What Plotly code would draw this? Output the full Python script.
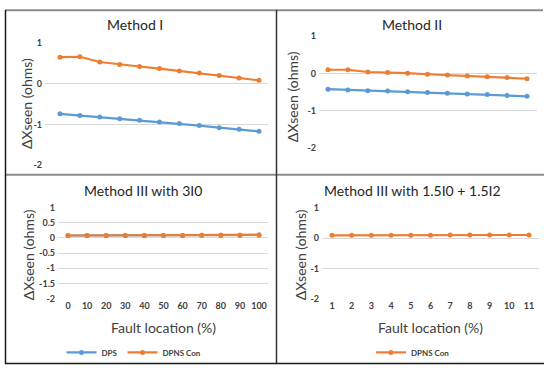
import plotly.graph_objects as go

W, H = 544, 370

# ---- data ----
loc_pct = ["0", "10", "20", "30", "40", "50", "60", "70", "80", "90", "100"]
loc_idx = ["1", "2", "3", "4", "5", "6", "7", "8", "9", "10", "11"]

m1_dps = [-0.74, -0.78, -0.82, -0.86, -0.90, -0.94, -0.98, -1.03, -1.08, -1.12, -1.17]
m1_dpns = [0.65, 0.66, 0.53, 0.47, 0.42, 0.37, 0.31, 0.26, 0.20, 0.14, 0.08]

m2_dps = [-0.42, -0.44, -0.46, -0.47, -0.49, -0.51, -0.53, -0.55, -0.56, -0.59, -0.61]
m2_dpns = [0.10, 0.10, 0.04, 0.03, 0.01, -0.02, -0.04, -0.07, -0.09, -0.11, -0.14]

m3_dps = [0.08, 0.08, 0.08, 0.08, 0.08, 0.08, 0.08, 0.09, 0.09, 0.09, 0.10]
m3_dpns = [0.08, 0.08, 0.08, 0.08, 0.08, 0.08, 0.08, 0.09, 0.09, 0.09, 0.10]

m4_dpns = [0.10, 0.10, 0.10, 0.10, 0.10, 0.10, 0.11, 0.11, 0.11, 0.11, 0.11]

yt_int = [-2, -1, 0, 1]
yt_int_txt = ["-2", "-1", "0", "1"]
yt_half = [-2, -1.5, -1, -0.5, 0, 0.5, 1]
yt_half_txt = ["-2", "-1.5", "-1", "-0.5", "0", "0.5", "1"]

titles = ["Method I", "Method II", "Method III with 3I0", "Method III with 1.5I0 + 1.5I2"]

BLUE = "#5B9BD5"
ORANGE = "#ED7D31"
GRID = "#D9D9D9"
FONT = "Lato"

def px_x(v):
    return v / W

def px_y(v):
    return 1 - v / H

fig = go.Figure()
xs = list(range(11))

def add(series, color, name, n, show, legend="legend"):
    fig.add_trace(go.Scatter(
        x=xs, y=series, mode="lines+markers", name=name,
        line=dict(color=color, width=2.2),
        marker=dict(color=color, size=5, symbol="circle"),
        xaxis="x" if n == 1 else f"x{n}", yaxis="y" if n == 1 else f"y{n}",
        showlegend=show, legend=legend))

add(m1_dps, BLUE, "DPS", 1, False)
add(m1_dpns, ORANGE, "DPNS Con", 1, False)
add(m2_dps, BLUE, "DPS", 2, False)
add(m2_dpns, ORANGE, "DPNS Con", 2, False)
add(m3_dps, BLUE, "DPS", 3, True, "legend")
add(m3_dpns, ORANGE, "DPNS Con", 3, True, "legend")
add(m4_dpns, ORANGE, "DPNS Con", 4, True, "legend2")

# panel geometry in pixels: (x0, x1, first point px, last point px, ytop(1), ybottom(-2))
panels = [
    (45, 268, 60, 259, 38, 164),
    (319, 537, 328, 527, 31, 146.7),
    (58, 268, 68, 259, 207.7, 301.7),
    (322, 539, 332, 529, 208.3, 301.7),
]

tickfont = dict(family=FONT, size=9, color="#404040", weight="bold")
layout = {}
for i, (x0, x1, p0, p1, yt, yb) in enumerate(panels, start=1):
    sc = (p1 - p0) / 10
    r0 = -(p0 - x0) / sc
    r1 = r0 + (x1 - x0) / sc
    xk = "xaxis" if i == 1 else f"xaxis{i}"
    yk = "yaxis" if i == 1 else f"yaxis{i}"
    ya = "y" if i == 1 else f"y{i}"
    xa = "x" if i == 1 else f"x{i}"
    layout[xk] = dict(
        domain=[px_x(x0), px_x(x1)], range=[r0, r1], anchor=ya,
        showgrid=False, zeroline=False, showline=False, ticks="",
        tickvals=xs, ticktext=(loc_pct if i == 3 else loc_idx),
        showticklabels=(i >= 3), tickfont=tickfont, fixedrange=True)
    if i == 3:
        tv, tt = yt_half, yt_half_txt
    else:
        tv, tt = yt_int, yt_int_txt
    layout[yk] = dict(
        domain=[px_y(yb), px_y(yt)], range=[-2, 1], anchor=xa,
        showgrid=True, gridcolor=GRID, gridwidth=1, zeroline=False,
        showline=False, ticks="", tickvals=tv, ticktext=tt,
        tickfont=tickfont, ticklabelstandoff=2, fixedrange=True)

fig.update_layout(**layout)

annotations = []
title_pos = [(135, 19), (412, 19), (143, 190), (412, 190)]
for t, (x, y) in zip(titles, title_pos):
    annotations.append(dict(text=t, x=px_x(x), y=px_y(y), xref="paper", yref="paper",
                            xanchor="center", yanchor="middle", showarrow=False,
                            font=dict(family=FONT, size=14, color="#262626")))
ytitle_pos = [(27, 101), (292, 94), (28, 257), (300, 257)]
for (x, y) in ytitle_pos:
    annotations.append(dict(text="ΔXseen (ohms)", x=px_x(x), y=px_y(y), xref="paper", yref="paper",
                            xanchor="center", yanchor="middle", showarrow=False, textangle=-90,
                            font=dict(family=FONT, size=14, color="#404040")))
for x in (163, 430):
    annotations.append(dict(text="Fault location (%)", x=px_x(x), y=px_y(331), xref="paper", yref="paper",
                            xanchor="center", yanchor="middle", showarrow=False,
                            font=dict(family=FONT, size=14, color="#404040")))

shapes = [
    dict(type="line", xref="paper", yref="paper", x0=px_x(5), x1=px_x(543), y0=px_y(4.5), y1=px_y(4.5),
         line=dict(color="#8C8C8C", width=2)),
    dict(type="line", xref="paper", yref="paper", x0=px_x(5), x1=px_x(544), y0=px_y(174), y1=px_y(174),
         line=dict(color="#8C8C8C", width=2)),
    dict(type="line", xref="paper", yref="paper", x0=px_x(5.5), x1=px_x(5.5), y0=px_y(4), y1=px_y(369),
         line=dict(color="#1A1A1A", width=1.5)),
    dict(type="line", xref="paper", yref="paper", x0=px_x(276.5), x1=px_x(276.5), y0=px_y(4), y1=px_y(369),
         line=dict(color="#333333", width=1.5)),
    dict(type="line", xref="paper", yref="paper", x0=px_x(5), x1=px_x(544), y0=px_y(368.5), y1=px_y(368.5),
         line=dict(color="#1A1A1A", width=1.5)),
]

legfont = dict(family=FONT, size=8, color="#404040", weight="bold")
fig.update_layout(
    width=W, height=H, margin=dict(l=0, r=0, t=0, b=0),
    paper_bgcolor="white", plot_bgcolor="white",
    annotations=annotations, shapes=shapes,
    legend=dict(orientation="h", x=px_x(134), y=px_y(357), xanchor="center", yanchor="middle",
                font=legfont, bgcolor="rgba(0,0,0,0)", itemwidth=30, tracegroupgap=0),
    legend2=dict(orientation="h", x=px_x(413), y=px_y(357), xanchor="center", yanchor="middle",
                 font=legfont, bgcolor="rgba(0,0,0,0)", itemwidth=30),
)

fig.write_html("out.html")
